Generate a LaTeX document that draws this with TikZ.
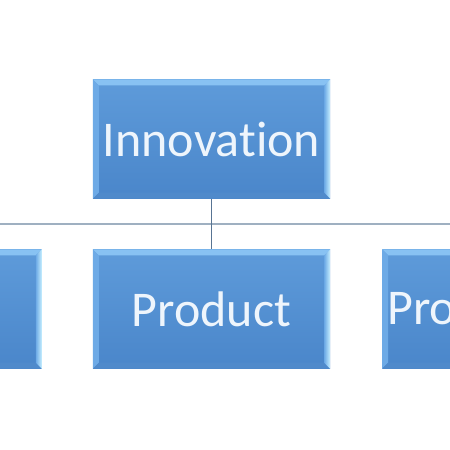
\documentclass[tikz,border=0pt]{standalone}
\usepackage{fontspec}
\setmainfont{Carlito}[Ligatures=NoCommon]
\usepackage{tikz}
\usetikzlibrary{positioning,calc}

\definecolor{boxtop}{HTML}{5E9BDA}
\definecolor{boxbot}{HTML}{4A86CA}
\definecolor{bevtop}{HTML}{88C2F3}
\definecolor{bevleft}{HTML}{6DAAE6}
\definecolor{bevright}{HTML}{C8F0FF}
\definecolor{bevbot}{HTML}{4F8ACB}
\definecolor{busline}{HTML}{9FB0C1}
\definecolor{linkline}{HTML}{587493}
\definecolor{boxtext}{HTML}{EEF5FC}

\tikzset{
  orgbox/.style={rectangle, minimum width=237pt, minimum height=119pt,
    top color=boxtop, bottom color=boxbot, draw=none, inner sep=0pt,
    text=boxtext, font=\fontsize{50}{60}\selectfont},
  cutbox/.style={orgbox, text width=227pt, align=left},
  bus/.style={busline, line width=2.2pt},
  link/.style={linkline, line width=1.8pt}
}

\begin{document}
\begin{tikzpicture}[x=1pt,y=-1pt]
\useasboundingbox (0,0) rectangle (450,450);
\fill[white] (0,0) rectangle (450,450);
\clip (0,0) rectangle (450,450);

% Org chart boxes
\node[orgbox] (inno) at (211.5,139) {Innovation};
\node[orgbox] (prod) at (211.5,309) {Product};
\node[orgbox, left=51pt of prod] (left) {};
\node[cutbox, right=52pt of prod] (right) {Process};

% Connectors
\coordinate (bus) at (211.5,224);
\draw[bus] (left.north) |- (bus) -| (right.north);
\draw[link] (inno.south) -- (prod.north);

% Bevel edges
\foreach \n in {inno,prod,left,right}{
  \fill[bevtop] (\n.north west) -- (\n.north east)
    -- ($(\n.north east)+(-6pt,-6pt)$) -- ($(\n.north west)+(6pt,-6pt)$) -- cycle;
  \fill[bevleft] (\n.north west) -- ($(\n.north west)+(6pt,-6pt)$)
    -- ($(\n.south west)+(6pt,6pt)$) -- (\n.south west) -- cycle;
  \fill[bevbot] (\n.south west) -- ($(\n.south west)+(6pt,6pt)$)
    -- ($(\n.south east)+(-6pt,6pt)$) -- (\n.south east) -- cycle;
  \shade[left color=bevleft, right color=bevright] (\n.north east)
    -- ($(\n.north east)+(-6pt,-6pt)$) -- ($(\n.south east)+(-6pt,6pt)$)
    -- (\n.south east) -- cycle;
}
\end{tikzpicture}
\end{document}
